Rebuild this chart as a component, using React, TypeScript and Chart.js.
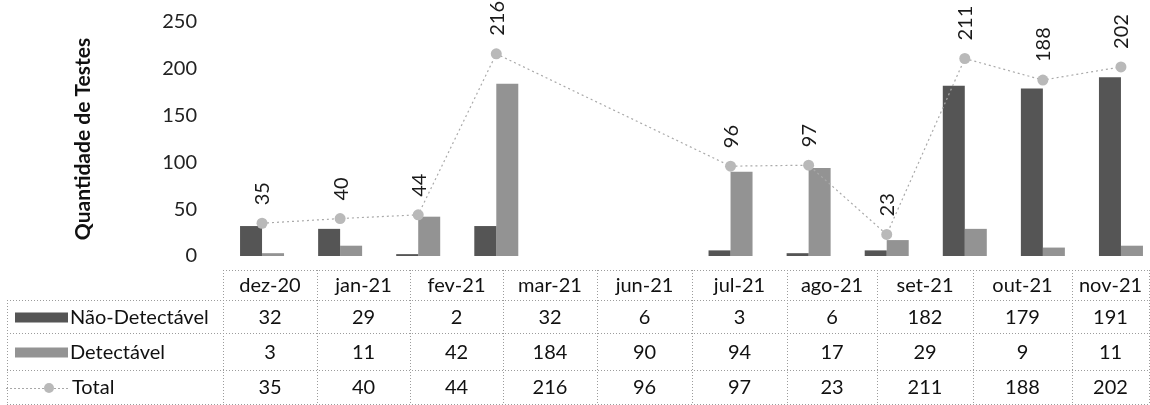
import React, { useEffect, useRef } from "react";
import { Chart, registerables } from "chart.js";

Chart.register(...registerables);

// ---- data ----
const AXIS_MONTHS = ["dez-20", "jan-21", "fev-21", "mar-21", "abr-21", "mai-21", "jun-21", "jul-21", "ago-21", "set-21", "out-21", "nov-21"];
const CATEGORIES = ["dez-20", "jan-21", "fev-21", "mar-21", "jun-21", "jul-21", "ago-21", "set-21", "out-21", "nov-21"];
const NAO_DETECTAVEL = [32, 29, 2, 32, 6, 3, 6, 182, 179, 191];
const DETECTAVEL = [3, 11, 42, 184, 90, 94, 17, 29, 9, 11];
const TOTAL = [35, 40, 44, 216, 96, 97, 23, 211, 188, 202];
const SERIES_NAMES = ["Não-Detectável", "Detectável", "Total"];
const Y_TITLE = "Quantidade de Testes";

// ---- layout / style (not data) ----
const FONT = "Lato";
const DARK = "#555555";
const LIGHT = "#939393";
const POINT = "#b9b9b9";
const TABLE_TOP = 270;
const TABLE_ROWS = [300, 333, 370, 404];
const TABLE_LEFT = 7;
const TABLE_COL_EDGES = [223, 317, 410, 503, 597, 692, 787, 877, 973, 1072, 1149];

const toAxis = (arr: number[]) =>
  AXIS_MONTHS.map((m) => {
    const i = CATEGORIES.indexOf(m);
    return i >= 0 ? arr[i] : null;
  });

const labelPlugin = {
  id: "totalLabels",
  afterDatasetsDraw(chart: any) {
    const ctx = chart.ctx;
    const meta = chart.getDatasetMeta(2);
    const data = chart.data.datasets[2].data;
    ctx.save();
    ctx.font = `20px ${FONT}`;
    ctx.fillStyle = "#1a1a1a";
    ctx.textAlign = "left";
    ctx.textBaseline = "middle";
    meta.data.forEach((pt: any, i: number) => {
      const v = data[i];
      if (v === null || v === undefined) return;
      ctx.save();
      ctx.translate(pt.x + 1, pt.y - 18);
      ctx.rotate(-Math.PI / 2);
      ctx.fillText(String(v), 0, 0);
      ctx.restore();
    });
    ctx.restore();
  },
};

const tablePlugin = {
  id: "dataTable",
  afterDraw(chart: any) {
    const ctx = chart.ctx;
    const right = TABLE_COL_EDGES[TABLE_COL_EDGES.length - 1];
    ctx.save();
    ctx.strokeStyle = "#9c9c9c";
    ctx.lineWidth = 1;
    ctx.setLineDash([1, 2]);
    const hline = (x1: number, x2: number, y: number) => {
      ctx.beginPath();
      ctx.moveTo(x1, y + 0.5);
      ctx.lineTo(x2, y + 0.5);
      ctx.stroke();
    };
    const vline = (x: number, y1: number, y2: number) => {
      ctx.beginPath();
      ctx.moveTo(x + 0.5, y1);
      ctx.lineTo(x + 0.5, y2);
      ctx.stroke();
    };
    hline(TABLE_COL_EDGES[0], right, TABLE_TOP);
    TABLE_ROWS.forEach((y) => hline(TABLE_LEFT, right, y));
    vline(TABLE_LEFT, TABLE_ROWS[0], TABLE_ROWS[TABLE_ROWS.length - 1]);
    TABLE_COL_EDGES.forEach((x) => vline(x, TABLE_TOP, TABLE_ROWS[TABLE_ROWS.length - 1]));

    ctx.setLineDash([]);
    ctx.font = `20px ${FONT}`;
    ctx.fillStyle = "#111";
    ctx.textAlign = "center";
    ctx.textBaseline = "middle";
    const rowTops = [TABLE_TOP, ...TABLE_ROWS];
    const rowsData = [CATEGORIES, NAO_DETECTAVEL, DETECTAVEL, TOTAL];
    rowsData.forEach((row, r) => {
      const cy = (rowTops[r] + rowTops[r + 1]) / 2 + 1;
      row.forEach((v: any, c: number) => {
        const cx = (TABLE_COL_EDGES[c] + TABLE_COL_EDGES[c + 1]) / 2;
        ctx.fillText(String(v), cx, cy);
      });
    });

    // legend keys
    ctx.textAlign = "left";
    const cy1 = (TABLE_ROWS[0] + TABLE_ROWS[1]) / 2 + 1;
    const cy2 = (TABLE_ROWS[1] + TABLE_ROWS[2]) / 2 + 1;
    const cy3 = (TABLE_ROWS[2] + TABLE_ROWS[3]) / 2 + 1;
    ctx.fillStyle = DARK;
    ctx.fillRect(15, cy1 - 5, 53, 10);
    ctx.fillStyle = LIGHT;
    ctx.fillRect(15, cy2 - 5, 53, 10);
    ctx.strokeStyle = "#a8a8a8";
    ctx.setLineDash([2, 2]);
    ctx.beginPath();
    ctx.moveTo(6, cy3 + 0.5);
    ctx.lineTo(68, cy3 + 0.5);
    ctx.stroke();
    ctx.setLineDash([]);
    ctx.fillStyle = POINT;
    ctx.beginPath();
    ctx.arc(49, cy3, 5, 0, Math.PI * 2);
    ctx.fill();
    ctx.fillStyle = "#111";
    ctx.fillText(SERIES_NAMES[0], 70, cy1);
    ctx.fillText(SERIES_NAMES[1], 70, cy2);
    ctx.fillText(SERIES_NAMES[2], 72, cy3);
    ctx.restore();
  },
};

export default function App() {
  const ref = useRef<HTMLCanvasElement | null>(null);

  useEffect(() => {
    const canvas = ref.current;
    if (!canvas) return;
    const chart = new Chart(canvas, {
      type: "bar",
      data: {
        labels: AXIS_MONTHS,
        datasets: [
          {
            type: "bar",
            label: SERIES_NAMES[0],
            data: toAxis(NAO_DETECTAVEL),
            backgroundColor: DARK,
            borderWidth: 0,
            categoryPercentage: 0.5635,
            barPercentage: 1,
            order: 1,
          },
          {
            type: "bar",
            label: SERIES_NAMES[1],
            data: toAxis(DETECTAVEL),
            backgroundColor: LIGHT,
            borderWidth: 0,
            categoryPercentage: 0.5635,
            barPercentage: 1,
            order: 2,
          },
          {
            type: "line",
            label: SERIES_NAMES[2],
            data: toAxis(TOTAL),
            spanGaps: true,
            borderColor: "#a9a9a9",
            borderWidth: 1.2,
            borderDash: [2, 3],
            pointRadius: 5.5,
            pointBackgroundColor: POINT,
            pointBorderWidth: 0,
            tension: 0,
            order: 0,
          },
        ] as any,
      },
      options: {
        animation: false,
        responsive: false,
        maintainAspectRatio: false,
        layout: { padding: { left: 67, top: 22, right: 10, bottom: 149 } },
        plugins: {
          legend: { display: false },
          tooltip: { enabled: false },
        },
        scales: {
          x: { display: false },
          y: {
            min: 0,
            max: 250,
            ticks: {
              stepSize: 50,
              padding: 26,
              color: "#222",
              font: { family: FONT, size: 20 },
            },
            grid: { display: false, drawTicks: false },
            border: { display: false },
            title: {
              display: true,
              text: Y_TITLE,
              color: "#111",
              font: { family: FONT, size: 21, weight: "bold" },
              padding: { top: 4, bottom: 4 },
            },
            afterFit: (scale: any) => {
              scale.width = 223 - 67;
              scale.paddingTop = 0;
              scale.paddingBottom = 0;
            },
          },
        },
      } as any,
      plugins: [labelPlugin, tablePlugin],
    });
    return () => chart.destroy();
  }, []);

  return (
    <div
      style={{
        position: "fixed",
        left: 0,
        top: 0,
        width: 1150,
        height: 405,
        overflow: "hidden",
        background: "#fff",
      }}
    >
      <canvas ref={ref} width={1170} height={405} style={{ width: 1170, height: 405, display: "block" }} />
    </div>
  );
}
